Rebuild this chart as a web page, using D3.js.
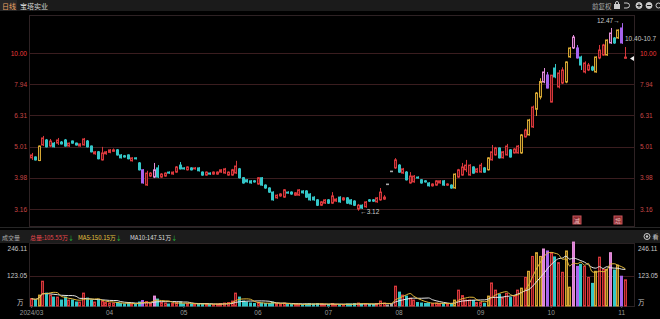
<!DOCTYPE html>
<html>
<head>
<meta charset="utf-8">
<script src="https://cdn.jsdelivr.net/npm/d3@7"></script>
<style>
  body { margin: 0; background: #000; overflow: hidden; }
  svg { display: block; font-family: "Noto Sans CJK SC", "Liberation Sans", sans-serif; }
</style>
</head>
<body>
<div id="chart"></div>
<script>
// daily candles, 2024/03/01 .. 2024/11/04
const openP = [4.61,4.64,4.52,5.07,5.26,5.03,5.14,5.14,5.18,5.26,5.03,5.22,5.14,5.03,5.07,5.22,5.03,4.75,4.82,4.54,
  4.75,4.80,4.84,4.89,4.71,4.68,4.71,4.51,4.61,4.44,4.22,3.77,4.03,4.00,4.28,4.00,4.03,4.15,4.09,4.15,
  4.37,4.28,4.22,4.28,4.25,4.28,4.15,4.06,4.12,4.09,4.09,4.15,4.12,4.06,4.06,4.12,4.25,3.98,3.92,3.89,
  3.89,3.80,3.98,3.77,3.69,3.58,3.43,3.48,3.45,3.58,3.58,3.50,3.50,3.61,3.61,3.53,3.45,3.38,3.25,3.30,
  3.38,3.30,3.35,3.45,3.38,3.43,3.38,3.35,3.16,3.25,3.21,3.38,3.38,3.33,3.38,3.40,3.80,4.18,4.28,4.37,
  4.12,4.15,3.83,3.86,4.00,3.92,3.89,3.83,3.75,3.77,3.83,3.89,3.77,3.77,3.69,4.00,4.06,4.22,4.06,4.31,
  4.15,4.15,4.28,4.22,4.54,4.71,4.96,4.61,4.71,4.89,4.78,4.78,4.78,5.38,5.46,5.79,6.60,7.22,8.07,8.50,
  6.96,8.95,7.78,8.01,8.07,9.71,10.38,10.38,9.71,8.69,8.82,9.02,8.69,9.64,9.85,9.85,10.77,11.17,11.17,12.03,
  9.62]
const highP = [4.78,4.66,5.05,5.42,5.30,5.30,5.18,5.34,5.22,5.30,5.16,5.24,5.16,5.13,5.34,5.26,5.05,4.85,4.85,5.00,
  4.85,4.92,4.94,4.92,4.74,4.71,4.73,4.63,4.62,4.47,4.24,4.19,4.15,4.44,4.37,4.12,4.14,4.17,4.17,4.34,
  4.47,4.30,4.33,4.30,4.31,4.30,4.17,4.17,4.14,4.17,4.17,4.24,4.28,4.17,4.25,4.51,4.28,4.00,3.94,3.91,
  3.91,4.00,4.00,3.79,3.71,3.60,3.52,3.55,3.66,3.60,3.60,3.58,3.66,3.63,3.63,3.55,3.47,3.40,3.35,3.40,
  3.40,3.58,3.42,3.47,3.45,3.45,3.40,3.37,3.28,3.27,3.35,3.40,3.40,3.45,3.69,3.50,3.80,4.18,4.60,4.40,
  4.28,4.18,4.15,4.06,4.02,3.94,3.91,3.85,3.82,3.91,3.91,3.91,3.82,3.79,4.11,4.25,4.44,4.54,4.40,4.33,
  4.28,4.44,4.31,4.63,5.07,5.00,4.98,4.85,5.11,4.92,4.95,5.07,5.50,5.72,6.15,6.78,7.50,8.30,8.95,8.69,
  8.49,9.22,8.82,9.00,9.40,10.45,11.42,10.61,9.80,9.40,9.29,9.10,9.75,10.61,10.70,11.05,12.03,11.25,11.90,12.47,
  10.45]
const lowP = [4.54,4.52,4.50,5.03,4.98,5.00,4.98,5.07,5.09,5.01,5.00,5.12,5.05,5.01,5.05,4.98,4.80,4.72,4.56,4.52,
  4.72,4.77,4.82,4.69,4.59,4.62,4.56,4.49,4.56,4.20,3.81,3.75,4.00,3.97,3.97,3.98,4.01,4.10,4.07,4.13,
  4.23,4.23,4.20,4.20,4.23,4.17,4.04,4.04,4.07,4.07,4.07,4.13,4.10,4.04,4.04,4.10,3.96,3.81,3.84,3.81,
  3.84,3.78,3.75,3.67,3.56,3.36,3.41,3.46,3.43,3.54,3.51,3.48,3.48,3.54,3.43,3.36,3.36,3.23,3.23,3.28,
  3.28,3.28,3.33,3.31,3.36,3.28,3.26,3.23,3.12,3.16,3.19,3.33,3.33,3.31,3.36,3.38,3.80,4.18,4.25,4.13,
  4.10,3.90,3.81,3.84,3.96,3.81,3.84,3.73,3.73,3.75,3.81,3.75,3.75,3.67,3.67,3.98,4.04,4.15,4.04,4.10,
  4.13,4.13,4.13,4.20,4.52,4.69,4.59,4.59,4.69,4.62,4.76,4.76,4.75,5.36,5.44,5.75,6.28,7.10,8.00,7.70,
  6.95,8.30,7.70,7.95,8.00,9.65,10.30,9.60,8.82,8.60,8.75,8.75,8.65,9.55,9.80,9.80,10.70,10.70,11.10,10.70,
  9.60]
const closeP = [4.71,4.54,5.03,5.34,5.00,5.22,5.00,5.26,5.11,5.03,5.14,5.14,5.07,5.11,5.30,5.00,4.82,4.82,4.58,4.78,
  4.82,4.89,4.89,4.71,4.61,4.64,4.58,4.61,4.58,4.22,3.83,4.12,4.12,4.22,4.00,4.09,4.12,4.12,4.15,4.31,
  4.25,4.25,4.31,4.22,4.28,4.19,4.06,4.15,4.09,4.15,4.15,4.22,4.25,4.15,4.22,4.34,3.98,3.83,3.86,3.83,
  3.86,3.98,3.77,3.69,3.58,3.38,3.50,3.53,3.64,3.56,3.53,3.56,3.64,3.56,3.45,3.38,3.38,3.25,3.33,3.38,
  3.30,3.48,3.40,3.33,3.43,3.30,3.28,3.25,3.25,3.18,3.33,3.35,3.35,3.43,3.58,3.45,3.80,4.18,4.54,4.15,
  4.25,3.92,4.03,4.03,3.98,3.83,3.86,3.75,3.80,3.89,3.89,3.77,3.80,3.69,4.09,4.22,4.31,4.37,4.37,4.12,
  4.25,4.37,4.15,4.61,4.82,4.96,4.61,4.82,5.03,4.64,4.92,5.03,5.46,5.66,6.10,6.71,7.44,8.10,8.69,7.72,
  8.49,8.38,8.63,8.82,9.36,10.38,11.25,9.64,9.15,9.29,9.15,8.82,9.71,10.22,10.61,11.01,11.59,10.77,11.85,10.77,
  9.70]
// candle colour class: u up, d down, y gold, p purple, k pink, g one-price limit day
const kinds = ("u d y u d u d u d d u d d u u d d u d u " +
  "u u u d d d d u d d p u u k d u u d u u " +
  "d d u d u d d u d u u u u u u u d d d d " +
  "d u d d d d u u u d d u u d d d d d u u " +
  "d u u d u d d d u d u d d u u u g g u d " +
  "u d u u d d d d u u u d u d y u u u u d " +
  "u u d y u u d u u d u u y u y u y y k p " +
  "u d u u y y k p d u u d y u u y k d y p u").split(" ")
// volume, 万股
const volume = [30,24,44,100,52,44,36,36,24,36,24,24,16,16,52,32,24,16,24,20,
  14,12,12,14,10,8,12,8,8,16,22,18,10,40,28,14,12,8,10,14,
  16,8,10,8,6,8,10,8,6,6,8,10,12,14,20,52,36,20,16,12,
  10,14,12,10,10,16,10,8,12,6,6,6,8,6,8,10,8,10,8,6,
  6,10,6,6,6,8,8,10,12,8,10,6,6,10,20,12,4,6,80,56,
  44,40,32,24,14,12,10,12,10,12,10,10,8,8,24,64,42,24,24,22,
  14,14,10,40,93,64,47,34,51,34,42,64,72,115,140,200,215,200,230,222,
  215,198,175,136,222,76,258,160,168,160,115,91.35,140,197,148,148,215,145,165,120.2,
  105.55]

const priceTicks = ["10.00", "7.94", "6.31", "5.01", "3.98", "3.16"]
const volumeTicks = ["246.11", "123.05"]
const monthLabels = ["2024/03", "04", "05", "06", "07", "08", "09", "10", "11"]
const monthStart = [0, 21, 41, 61, 80, 99, 121, 140, 159]

const W = 660, H = 319
const plotL = 29, plotR = 634
const mainTop = 15, mainBot = 226
const volTop = 243, volBot = 306

const palette = {
  u: { stroke: "#d8383c", fill: "#5a1214", vfill: "#6a1416" },
  d: { stroke: "#34c6c8", fill: "#34c6c8", vfill: "#34c6c8" },
  y: { stroke: "#d6a733", fill: "#2e2206", vfill: "#7a5e1a" },
  p: { stroke: "#a764ee", fill: "#a764ee", vfill: "#a764ee" },
  k: { stroke: "#e48fd8", fill: "#4a1c40", vfill: "#d77ad6" },
  g: { stroke: "#a8a8a8", fill: "#a8a8a8", vfill: "#888" }
}

const data = openP.map((o, i) => ({
  i, o, h: highP[i], l: lowP[i], c: closeP[i], k: kinds[i], v: volume[i]
}))

const svg = d3.select("#chart").append("svg").attr("width", W).attr("height", H)

// SCALES
const step = 3.706
const x = d3.scaleBand()
  .domain(d3.range(data.length))
  .range([30.15, 30.15 + step * data.length])
  .paddingInner(0.22)
const y = d3.scaleLog().domain([3.16, 10]).range([209, 53])
const vy = d3.scaleLinear().domain([0, 246.11]).range([volBot, volBot - 61])
const cx = i => x(i) + x.bandwidth() / 2

// HEADER
svg.append("rect").attr("x", 0).attr("y", 0).attr("width", W).attr("height", 11).attr("fill", "#1b1b1b")
svg.append("rect").attr("x", 0).attr("y", 0).attr("width", 17).attr("height", 11).attr("fill", "#262626")
svg.append("text").attr("x", 2).attr("y", 8.5).attr("fill", "#eea466").attr("font-size", 7).text("日线")
svg.append("text").attr("x", 20).attr("y", 8.5).attr("fill", "#d6d6d6").attr("font-size", 7).text("宝塔实业")
svg.append("text").attr("x", 592).attr("y", 8.5).attr("fill", "#aaa").attr("font-size", 6.5).text("前复权")
let icons = svg.append("g").attr("stroke", "#ccc").attr("fill", "none").attr("stroke-width", 1)
icons.append("rect").attr("x", 614.5).attr("y", 4.5).attr("width", 5).attr("height", 4).attr("fill", "#ccc")
icons.append("path").attr("d", "M615.5,4.5 v-1.5 a1.5,1.5 0 0 1 3,0 v1.5")
icons.append("path").attr("d", "M624,3 h3 a2.5,2.5 0 0 1 0,5 h-3")
icons.append("circle").attr("cx", 639).attr("cy", 5.5).attr("r", 3).attr("fill", "#ccc")
icons.append("path").attr("d", "M637,5.5 h4 M639,3.5 v4").attr("stroke", "#1b1b1b")
icons.append("circle").attr("cx", 649).attr("cy", 5.5).attr("r", 3).attr("fill", "#ccc")
icons.append("path").attr("d", "M647,5.5 h4").attr("stroke", "#1b1b1b")
icons.append("circle").attr("cx", 658.5).attr("cy", 5.5).attr("r", 2.5)

// MAIN FRAME + GRID
const gridColor = "#3a1d1f"
svg.append("rect").attr("x", plotL + 0.5).attr("y", mainTop + 0.5)
  .attr("width", plotR - plotL).attr("height", mainBot - mainTop)
  .attr("fill", "none").attr("stroke", "#2e2224")
svg.append("g").selectAll("line").data(priceTicks).join("line")
  .attr("x1", plotL).attr("x2", plotR)
  .attr("y1", d => Math.round(y(+d)) + 0.5).attr("y2", d => Math.round(y(+d)) + 0.5)
  .attr("stroke", gridColor)

const leftAxis = d3.axisLeft(y).tickValues(priceTicks.map(Number)).tickSize(0).tickPadding(2)
  .tickFormat((d, i) => priceTicks[i])
const gl = svg.append("g").attr("transform", `translate(${plotL},0)`).call(leftAxis)
gl.select(".domain").remove()
gl.selectAll("text").attr("fill", (d, i) => i === 0 ? "#f03a3a" : "#c84646")
  .attr("font-size", 6.5).attr("font-family", "Liberation Sans, sans-serif")
const rightAxis = d3.axisRight(y).tickValues(priceTicks.map(Number)).tickSize(0).tickPadding(6)
  .tickFormat((d, i) => priceTicks[i])
const gr = svg.append("g").attr("transform", `translate(${plotR},0)`).call(rightAxis)
gr.select(".domain").remove()
gr.selectAll("text").attr("fill", (d, i) => i === 0 ? "#f03a3a" : "#c84646")
  .attr("font-size", 6.5).attr("font-family", "Liberation Sans, sans-serif")

// CANDLES
const candles = svg.append("g").selectAll("g").data(data).join("g")
candles.append("line")
  .attr("x1", d => Math.round(cx(d.i)) + 0.5).attr("x2", d => Math.round(cx(d.i)) + 0.5)
  .attr("y1", d => y(d.h)).attr("y2", d => y(d.l))
  .attr("stroke", d => palette[d.k].stroke)
candles.append("rect")
  .attr("x", d => Math.round(x(d.i)) + 0.5)
  .attr("y", d => Math.min(y(d.o), y(d.c)))
  .attr("width", Math.round(x.bandwidth()) - 1)
  .attr("height", d => d.k === "g" ? 0.6 : Math.max(1, Math.abs(y(d.o) - y(d.c))))
  .attr("fill", d => palette[d.k].fill)
  .attr("stroke", d => palette[d.k].stroke)
  .attr("stroke-width", 1)

// high / low markers
const hiIdx = d3.maxIndex(data, d => d.h)
const loIdx = d3.minIndex(data, d => d.l)
svg.append("text").attr("x", cx(hiIdx) - 2).attr("y", y(data[hiIdx].h))
  .attr("text-anchor", "end").attr("fill", "#ccc").attr("font-size", 6.5)
  .attr("font-family", "Liberation Sans, sans-serif")
  .text(data[hiIdx].h.toFixed(2) + "→")
svg.append("text").attr("x", cx(loIdx) + 2).attr("y", y(data[loIdx].l) + 3)
  .attr("fill", "#ccc").attr("font-size", 6.5)
  .attr("font-family", "Liberation Sans, sans-serif")
  .text("←" + data[loIdx].l.toFixed(2))
svg.append("text").attr("x", 625).attr("y", 41).attr("fill", "#c8c8c8").attr("font-size", 6.5)
  .attr("font-family", "Liberation Sans, sans-serif").text("10.40-10.7")
svg.append("path").attr("d", "M630," + y(9.6) + " l4,-2.5 v5 z").attr("fill", "#eee")

// event badges
const badges = [{ i: 147, t: "减" }, { i: 158, t: "增" }]
const bg = svg.append("g").selectAll("g").data(badges).join("g")
  .attr("transform", d => `translate(${Math.round(cx(d.i)) - 4},216)`)
bg.append("rect").attr("width", 8).attr("height", 8).attr("fill", "#8a2a2e").attr("stroke", "#c8545a")
bg.append("text").attr("x", 4).attr("y", 6.5).attr("text-anchor", "middle")
  .attr("fill", "#f2c0c0").attr("font-size", 6).text(d => d.t)

// VOLUME PANEL
svg.append("line").attr("x1", 0).attr("x2", W).attr("y1", 227.5).attr("y2", 227.5).attr("stroke", "#262626")
svg.append("rect").attr("x", 0).attr("y", 230).attr("width", W).attr("height", 13).attr("fill", "#1c1c1c")
const ma5 = data.map((d, i) => d3.mean(volume.slice(Math.max(0, i - 4), i + 1)))
const ma10 = data.map((d, i) => d3.mean(volume.slice(Math.max(0, i - 9), i + 1)))
const last = data.length - 1
const legend = [
  { x: 2, t: "成交量", c: "#aaa", arrow: false },
  { x: 30, t: "总量:" + volume[last].toFixed(2) + "万", c: "#e8484e", arrow: true },
  { x: 78, t: "MA5:" + ma5[last].toFixed(2) + "万", c: "#e3c23c", arrow: true },
  { x: 130, t: "MA10:" + ma10[last].toFixed(2) + "万", c: "#dedede", arrow: true }
]
const lg = svg.append("g").selectAll("text").data(legend).join("text")
  .attr("x", d => d.x).attr("y", 239.5).attr("fill", d => d.c).attr("font-size", 6)
lg.append("tspan").text(d => d.t)
lg.filter(d => d.arrow).append("tspan").attr("fill", "#27c23a").text("↓")
svg.append("circle").attr("cx", 647).attr("cy", 236.5).attr("r", 3).attr("fill", "none").attr("stroke", "#ccc")
svg.append("circle").attr("cx", 647).attr("cy", 236.5).attr("r", 1.2).attr("fill", "#ccc")
svg.append("text").attr("x", 652.5).attr("y", 239).attr("fill", "#ccc").attr("font-size", 6).text("看")

svg.append("rect").attr("x", plotL + 0.5).attr("y", volTop + 0.5)
  .attr("width", plotR - plotL).attr("height", volBot - volTop)
  .attr("fill", "none").attr("stroke", "#2a2224")
svg.append("line").attr("x1", plotL).attr("x2", plotR)
  .attr("y1", Math.round(vy(123.05)) + 0.5).attr("y2", Math.round(vy(123.05)) + 0.5)
  .attr("stroke", gridColor)

svg.append("g").selectAll("rect").data(data).join("rect")
  .attr("x", d => Math.round(x(d.i)) + 0.5)
  .attr("y", d => vy(d.v))
  .attr("width", Math.round(x.bandwidth()) - 1)
  .attr("height", d => volBot - vy(d.v))
  .attr("fill", d => palette[d.k].vfill)
  .attr("stroke", d => palette[d.k].stroke)

const maLine = d3.line().x((d, i) => cx(i)).y(d => vy(d)).curve(d3.curveMonotoneX)
svg.append("path").attr("d", maLine(ma10)).attr("fill", "none").attr("stroke", "#e6e6e6").attr("stroke-width", 1)
svg.append("path").attr("d", maLine(ma5)).attr("fill", "none").attr("stroke", "#e3b83a").attr("stroke-width", 1)

const volLabels = volumeTicks.map(t => ({ t, y: vy(+t) }))
  .map((d, i) => i === 0 ? { ...d, y: d.y + 3 } : d)
svg.append("g").selectAll("text").data(volLabels).join("text")
  .attr("x", 27).attr("y", d => d.y + 2.5).attr("text-anchor", "end")
  .attr("fill", "#c8c8c8").attr("font-size", 6.5).attr("font-family", "Liberation Sans, sans-serif")
  .text(d => d.t)
svg.append("g").selectAll("text").data(volLabels).join("text")
  .attr("x", 638).attr("y", d => d.y + 2.5)
  .attr("fill", "#c8c8c8").attr("font-size", 6.5).attr("font-family", "Liberation Sans, sans-serif")
  .text(d => d.t)
svg.append("text").attr("x", 17).attr("y", 304.5).attr("fill", "#c8c8c8").attr("font-size", 6.5).text("万")
svg.append("text").attr("x", 638).attr("y", 304.5).attr("fill", "#c8c8c8").attr("font-size", 6.5).text("万")

// DATE AXIS
const xAxis = d3.axisBottom(x).tickValues(monthStart).tickSize(2).tickPadding(2)
  .tickFormat((d, i) => monthLabels[i])
const gx = svg.append("g").attr("transform", `translate(0,${volBot})`).call(xAxis)
gx.select(".domain").remove()
gx.selectAll("line").attr("stroke", "#555")
gx.selectAll("text").attr("fill", "#9a9a9a").attr("font-size", 6.5)
  .attr("font-family", "Liberation Sans, sans-serif")
</script>
</body>
</html>
